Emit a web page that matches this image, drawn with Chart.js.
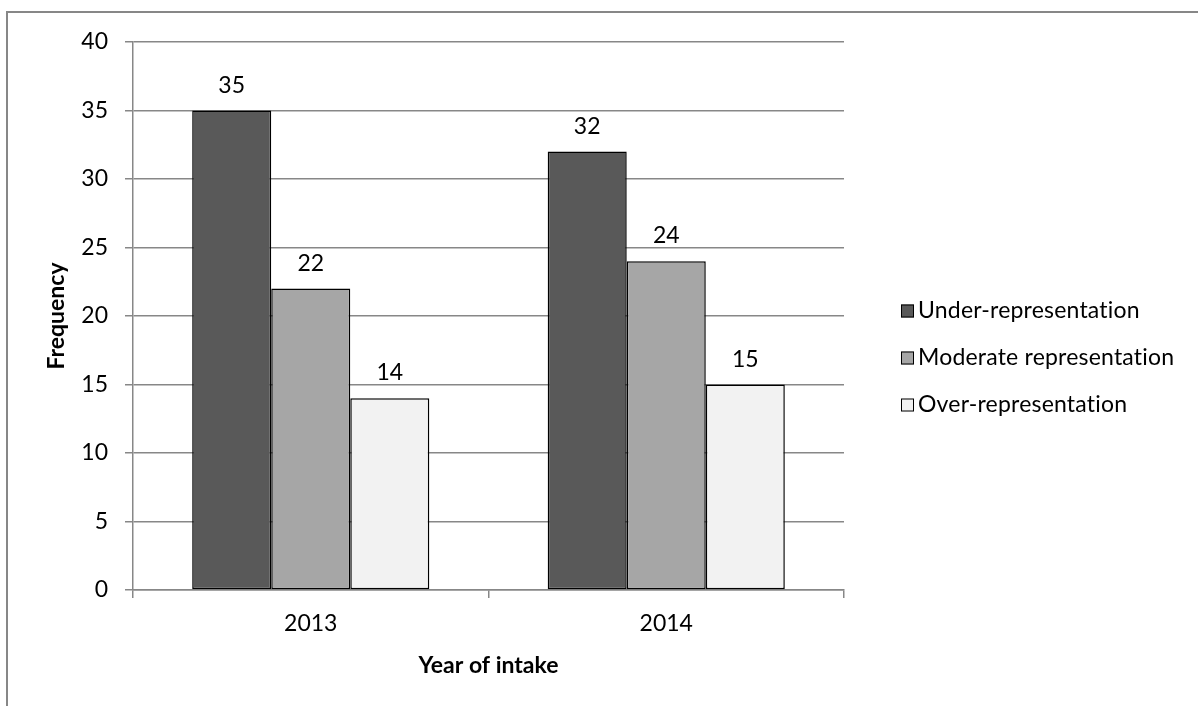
<!DOCTYPE html>
<html>
<head>
<meta charset="utf-8">
<script src="https://cdn.jsdelivr.net/npm/chart.js@4.4.0/dist/chart.umd.min.js"></script>
<style>
  html, body { margin: 0; padding: 0; background: #fff; }
  #wrap { width: 1198px; height: 706px; }
</style>
</head>
<body>
<div id="wrap"><canvas id="chart"></canvas></div>
<script>
const years = ['2013', '2014'];
const seriesNames = ['Under-representation', 'Moderate representation', 'Over-representation'];
const underRep = [35, 32];
const moderateRep = [22, 24];
const overRep = [14, 15];
const seriesColors = ['#595959', '#a6a6a6', '#f2f2f2'];
const yMax = 40;
const yStep = 5;

const gridGray = '#878787';

// grey frame around the whole figure (runs off the right and bottom edges)
const framePlugin = {
  id: 'frame',
  beforeDraw(chart) {
    const ctx = chart.ctx;
    ctx.save();
    ctx.strokeStyle = gridGray;
    ctx.lineWidth = 2;
    ctx.strokeRect(7, 12, 1400, 900);
    ctx.restore();
  }
};

// numbers above each bar
const valueLabels = {
  id: 'valueLabels',
  afterDatasetsDraw(chart) {
    const ctx = chart.ctx;
    ctx.save();
    ctx.font = '23px Lato';
    ctx.fillStyle = '#000';
    ctx.textAlign = 'center';
    ctx.textBaseline = 'alphabetic';
    chart.data.datasets.forEach((ds, i) => {
      chart.getDatasetMeta(i).data.forEach((bar, j) => {
        ctx.fillText(String(ds.data[j]), bar.x, bar.y - 18);
      });
    });
    ctx.restore();
  }
};

// legend to the right of the plot
const sideLegend = {
  id: 'sideLegend',
  afterDraw(chart) {
    const ctx = chart.ctx;
    const boxX = 901, textX = 918, firstY = 311, rowGap = 47, box = 13;
    ctx.save();
    ctx.font = '23px Lato';
    ctx.letterSpacing = '0.2px'; // keeps "ti" from turning into a ligature
    ctx.textAlign = 'left';
    ctx.textBaseline = 'middle';
    chart.data.datasets.forEach((ds, i) => {
      const y = firstY + i * rowGap;
      ctx.fillStyle = ds.backgroundColor;
      ctx.fillRect(boxX, y - box / 2, box, box);
      ctx.strokeStyle = '#000';
      ctx.lineWidth = 1;
      ctx.strokeRect(boxX + 0.5, y - box / 2 + 0.5, box - 1, box - 1);
      ctx.fillStyle = '#000';
      ctx.fillText(ds.label, textX, y);
    });
    ctx.restore();
  }
};

Chart.defaults.font.family = 'Lato';
Chart.defaults.font.size = 23;
Chart.defaults.color = '#000';

const ctx = document.getElementById('chart');
new Chart(ctx, {
  type: 'bar',
  data: {
    labels: years,
    datasets: [underRep, moderateRep, overRep].map((d, i) => ({
      label: seriesNames[i],
      data: d,
      backgroundColor: seriesColors[i],
      borderColor: '#000',
      borderWidth: 1.5,
      borderSkipped: false,
      categoryPercentage: 0.667,
      barPercentage: 1.0
    }))
  },
  options: {
    responsive: true,
    maintainAspectRatio: false,
    animation: false,
    layout: { padding: { left: 0, top: 42, right: 354, bottom: 0 } },
    plugins: {
      legend: { display: false },
      tooltip: { enabled: false }
    },
    scales: {
      x: {
        grid: {
          display: true,
          offset: true,
          drawOnChartArea: false,
          drawTicks: true,
          tickLength: 8,
          color: gridGray,
          lineWidth: 1.5
        },
        border: { display: true, color: gridGray, width: 1.5 },
        ticks: { padding: 12, font: { size: 23 } },
        title: {
          display: true,
          text: 'Year of intake',
          font: { size: 23, weight: 'bold' },
          padding: { top: 0, bottom: 27 }
        },
        afterFit: (scale) => { scale.height = 116; }
      },
      y: {
        min: 0,
        max: yMax,
        ticks: { stepSize: yStep, padding: 17, font: { size: 23 } },
        grid: {
          color: gridGray,
          lineWidth: 1.5,
          tickLength: 8,
          drawTicks: true
        },
        border: { display: true, color: gridGray, width: 1.5 },
        title: {
          display: true,
          text: 'Frequency',
          font: { size: 23, weight: 'bold' },
          padding: { top: 43, bottom: 0 }
        },
        afterFit: (scale) => { scale.width = 133; }
      }
    }
  },
  plugins: [framePlugin, valueLabels, sideLegend]
});
</script>
</body>
</html>
